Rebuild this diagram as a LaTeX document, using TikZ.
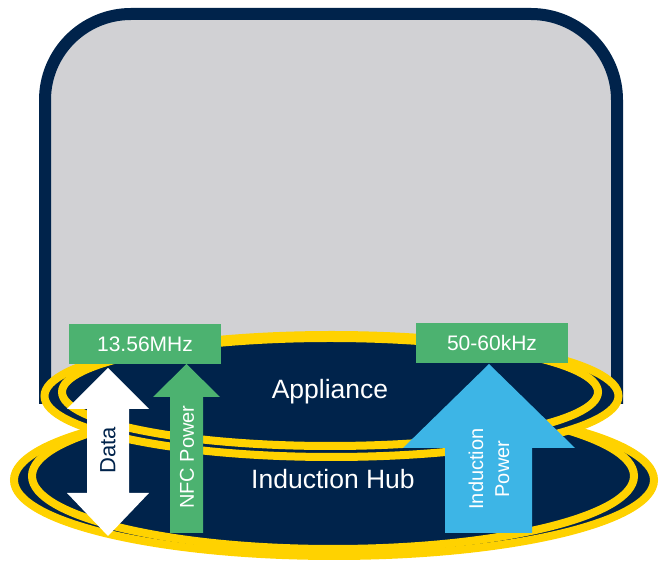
\documentclass[tikz,border=0pt]{standalone}
\usepackage{fontspec}
\setmainfont{Liberation Sans}
\definecolor{hubnavy}{HTML}{00234B}
\definecolor{coilgold}{HTML}{FFD200}
\definecolor{panelgray}{HTML}{D1D1D4}
\definecolor{nfcgreen}{HTML}{4CB270}
\definecolor{powerblue}{HTML}{3DB5E6}
\tikzset{
  coil/.style={fill=hubnavy,draw=coilgold,line width=8pt},
  freqbox/.style={fill=nfcgreen,text=white,font=\fontsize{21}{25}\selectfont,minimum width=152pt,minimum height=40pt,inner sep=0pt},
  layertext/.style={text=white,font=\fontsize{26.5}{31}\selectfont,inner sep=0pt},
  arrowtext/.style={rotate=90,font=\fontsize{20}{26}\selectfont,inner sep=0pt,align=center}
}
\begin{document}
\begin{tikzpicture}[x=1pt,y=1pt]
\useasboundingbox (0,0) rectangle (659,562);
% Appliance Housing
    \filldraw[fill=panelgray,draw=hubnavy,line width=12pt] (45,164) -- (45,462) arc[start angle=180,end angle=90,radius=86pt] -- (531,548) arc[start angle=90,end angle=0,radius=86pt] -- (617,164) -- cycle;
% Coils
    \draw[coil] (334,82) ellipse[x radius=320,y radius=76];
    \draw[coil] (333,86) ellipse[x radius=301,y radius=73];
    \draw[coil] (331.5,166) ellipse[x radius=287,y radius=61];
    \draw[coil] (330,170) ellipse[x radius=268,y radius=54];
    \node[layertext] (appliance) at (330,170) {Appliance};
    \node[layertext] (hub) at (333,83) {Induction Hub};
% Arrows
    \fill[white] (108,194) -- (149,153) -- (129,153) -- (129,69) -- (149,69) -- (108,26) -- (67,69) -- (87,69) -- (87,153) -- (67,153) -- cycle;
    \node[arrowtext,text=hubnavy,font=\fontsize{22}{26}\selectfont] (data) at (108,112) {Data};
    \fill[nfcgreen] (186.5,198) -- (220,165) -- (203,165) -- (203,29) -- (170,29) -- (170,165) -- (153,165) -- cycle;
    \node[arrowtext,text=white] (nfc) at (187,105) {NFC Power};
    \fill[powerblue] (489,198) -- (575,114) -- (532,114) -- (532,29) -- (445,29) -- (445,114) -- (403,114) -- cycle;
    \node[arrowtext,text=white] (induction) at (489,93) {Induction\\Power};
% Frequencies
    \node[freqbox] (nfcfreq) at (145,217.5) {13.56MHz};
    \node[freqbox] (indfreq) at (492,219) {50-60kHz};
\end{tikzpicture}
\end{document}
